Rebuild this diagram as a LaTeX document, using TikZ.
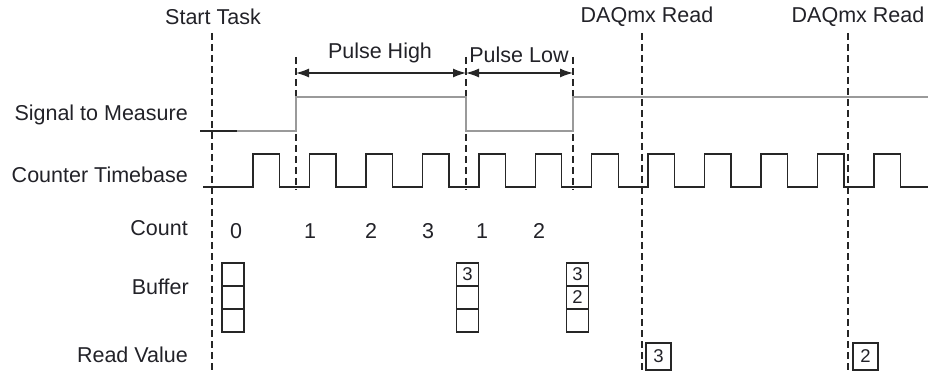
\documentclass[tikz,border=0pt]{standalone}
\usepackage{fontspec}
\setmainfont{Liberation Sans}
\usetikzlibrary{arrows.meta}
\definecolor{txt}{HTML}{222228}
\definecolor{sig}{HTML}{9A9A9A}
\tikzset{
  lbl/.style={anchor=east, text=txt, font=\fontsize{21.5}{25}\selectfont, inner sep=0pt},
  toplbl/.style={text=txt, font=\fontsize{21.5}{25}\selectfont, inner sep=0pt},
  num/.style={text=txt, font=\fontsize{21.5}{25}\selectfont, inner sep=0pt},
  dashline/.style={draw=black!85, line width=1.3pt, dash pattern=on 7pt off 4pt},
  sigline/.style={draw=sig, line width=2pt},
  tbline/.style={draw=black!85, line width=1.4pt},
  cell/.style={draw=black!85, line width=1.3pt, minimum width=22pt, minimum height=23pt, inner sep=0pt, text=txt, font=\fontsize{18.5}{20}\selectfont},
  rbox/.style={draw=black!85, line width=1.3pt, minimum width=25pt, minimum height=27pt, inner sep=0pt, text=txt, font=\fontsize{18.5}{20}\selectfont},
  dim/.style={draw=black!85, line width=1.3pt, {Latex[length=13pt,width=9pt]}-{Latex[length=13pt,width=9pt]}}
}
\begin{document}
\begin{tikzpicture}[x=1pt,y=-1pt]
\useasboundingbox (0,0) rectangle (928,374);
% row labels
\node[lbl] (lsig) at (188,115) {Signal to Measure};
\node[lbl] (ltb) at (188,175) {Counter Timebase};
\node[lbl] (lcnt) at (188,228) {Count};
\node[lbl] (lbuf) at (189,287) {Buffer};
\node[lbl] (lrv) at (188,355) {Read Value};
% top labels
\node[toplbl] (st) at (213,17) {Start Task};
\node[toplbl] (rd1) at (647,17) {DAQmx Read};
\node[toplbl] (rd2) at (858,17) {DAQmx Read};
\node[toplbl] (ph) at (380,53) {Pulse High};
\node[toplbl] (pl) at (519,55) {Pulse Low};
% dashed markers
\coordinate (s0) at (212,33); \coordinate (s1) at (212,374);
\coordinate (a0) at (296,57); \coordinate (a1) at (296,190);
\coordinate (b0) at (466,57); \coordinate (b1) at (466,190);
\coordinate (c0) at (573,57); \coordinate (c1) at (573,190);
\coordinate (d0) at (642,33); \coordinate (d1) at (642,374);
\coordinate (e0) at (848,33); \coordinate (e1) at (848,374);
\draw[dashline] (s0) -- (s1);
\draw[dashline] (a0) -- (a1);
\draw[dashline] (b0) -- (b1);
\draw[dashline] (c0) -- (c1);
\draw[dashline] (d0) -- (d1);
\draw[dashline] (e0) -- (e1);
% dimension arrows
\coordinate (pa) at (296,73); \coordinate (pb) at (466,73); \coordinate (pc) at (573,73);
\draw[dim] (pa) -- (pb);
\draw[dim] (pb) -- (pc);
% signal to measure
\draw[draw=black!85, line width=1.4pt] (200,131) -- (237,131);
\draw[sigline] (237,131) -- (296,131) -- (296,97) -- (466,97) -- (466,131) -- (573,131) -- (573,97) -- (928,97);
% counter timebase
\draw[tbline] (203,187) foreach \k in {0,...,11} { -- ({253+56.45*\k},187) -- ({253+56.45*\k},154) -- ({279.5+56.45*\k},154) -- ({279.5+56.45*\k},187) } -- (928,187);
% counts
\node[num] (n0) at (236,231) {0};
\node[num] (n1) at (310,231) {1};
\node[num] (n2) at (371,231) {2};
\node[num] (n3) at (428,231) {3};
\node[num] (n4) at (482,231) {1};
\node[num] (n5) at (539,231) {2};
% buffers
\node[cell] (b1a) at (233,274.5) {};
\node[cell] (b1b) at (233,297.5) {};
\node[cell] (b1c) at (233,320.5) {};
\node[cell] (b2a) at (467.5,274.5) {3};
\node[cell] (b2b) at (467.5,297.5) {};
\node[cell] (b2c) at (467.5,320.5) {};
\node[cell] (b3a) at (577.5,274.5) {3};
\node[cell] (b3b) at (577.5,297.5) {2};
\node[cell] (b3c) at (577.5,320.5) {};
% read values
\node[rbox] (rv1) at (658.5,356.5) {3};
\node[rbox] (rv2) at (865.5,356.5) {2};
\end{tikzpicture}
\end{document}
